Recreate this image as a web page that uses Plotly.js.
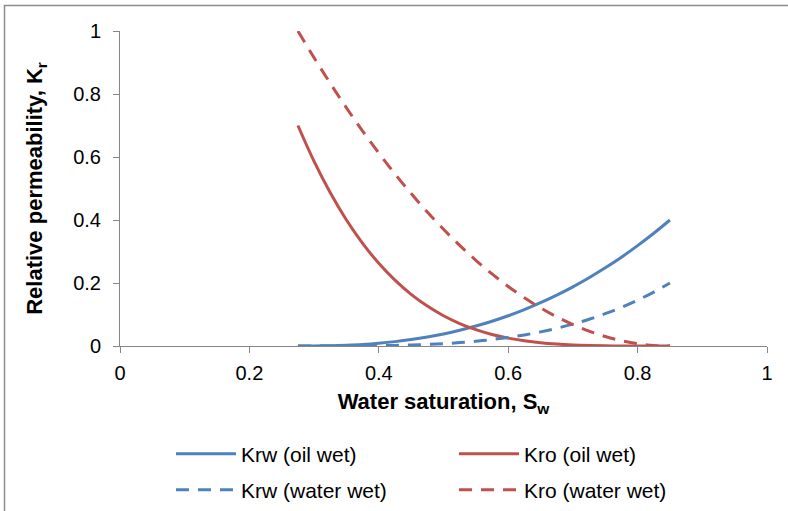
<!DOCTYPE html>
<html>
<head>
<meta charset="utf-8">
<script src="https://cdn.plot.ly/plotly-3.0.1.min.js"></script>
<style>html,body{margin:0;padding:0;background:#fff;}#chart{width:788px;height:511px;}</style>
</head>
<body>
<div id="chart"></div>
<script>
// Water saturation values (x)
const sw = [0.275, 0.300, 0.325, 0.350, 0.375, 0.400, 0.425, 0.450, 0.475, 0.500, 0.525, 0.550,
            0.575, 0.600, 0.625, 0.650, 0.675, 0.700, 0.725, 0.750, 0.775, 0.800, 0.825, 0.850];
// Krw (oil wet)
const krwOilWet = [0.0000, 0.0002, 0.0009, 0.0025, 0.0050, 0.0088, 0.0139, 0.0204, 0.0285, 0.0383, 0.0499, 0.0633,
                   0.0786, 0.0961, 0.1156, 0.1374, 0.1615, 0.1879, 0.2167, 0.2481, 0.2820, 0.3186, 0.3579, 0.4000];
// Kro (oil wet)
const kroOilWet = [0.7000, 0.5860, 0.4865, 0.4002, 0.3260, 0.2626, 0.2089, 0.1639, 0.1266, 0.0961, 0.0714, 0.0519,
                   0.0366, 0.0250, 0.0164, 0.0102, 0.0060, 0.0032, 0.0016, 0.0006, 0.0002, 0.0000, 0.0000, 0.0000];
// Krw (water wet)
const krwWaterWet = [0.0000, 0.0000, 0.0000, 0.0002, 0.0004, 0.0010, 0.0018, 0.0031, 0.0050, 0.0075, 0.0108, 0.0151,
                     0.0205, 0.0272, 0.0352, 0.0448, 0.0562, 0.0694, 0.0848, 0.1025, 0.1226, 0.1455, 0.1712, 0.2000];
// Kro (water wet)
const kroWaterWet = [1.0000, 0.9149, 0.8337, 0.7561, 0.6824, 0.6125, 0.5463, 0.4839, 0.4253, 0.3705, 0.3195, 0.2722,
                     0.2287, 0.1890, 0.1531, 0.1210, 0.0926, 0.0681, 0.0473, 0.0303, 0.0170, 0.0076, 0.0019, 0.0000];
// Tick values / labels
const xTicks = [0, 0.2, 0.4, 0.6, 0.8, 1];
const xTickLabels = ['0', '0.2', '0.4', '0.6', '0.8', '1'];
const yTicks = [0, 0.2, 0.4, 0.6, 0.8, 1];
const yTickLabels = ['0', '0.2', '0.4', '0.6', '0.8', '1'];
const seriesNames = ['Krw (oil wet)', 'Kro (oil wet)', 'Krw (water wet)', 'Kro (water wet)'];

const BLUE = '#4F81BD', RED = '#C0504D', AXIS = '#868686';
const FONT = 'Liberation Sans, Arial, sans-serif';

const traces = [
  {x: sw, y: krwOilWet, name: seriesNames[0], legend: 'legend', mode: 'lines', line: {color: BLUE, width: 3, shape: 'spline'}},
  {x: sw, y: kroOilWet, name: seriesNames[1], legend: 'legend', mode: 'lines', line: {color: RED, width: 3, shape: 'spline'}},
  {x: sw, y: krwWaterWet, name: seriesNames[2], legend: 'legend2', mode: 'lines', line: {color: BLUE, width: 3, dash: '13px,9px', shape: 'spline'}},
  {x: sw, y: kroWaterWet, name: seriesNames[3], legend: 'legend2', mode: 'lines', line: {color: RED, width: 3, dash: '13px,9px', shape: 'spline'}}
];

const legendBase = {
  orientation: 'h', xanchor: 'left', yanchor: 'middle',
  entrywidth: 208, entrywidthmode: 'pixels', itemwidth: 60,
  font: {family: FONT, size: 21, color: '#000'}, bgcolor: 'rgba(0,0,0,0)', borderwidth: 0
};

const layout = {
  width: 788, height: 511,
  margin: {l: 120, r: 21, t: 31, b: 165, autoexpand: false},
  paper_bgcolor: '#ffffff', plot_bgcolor: '#ffffff',
  font: {family: FONT, size: 20, color: '#000'},
  showlegend: true,
  legend: Object.assign({}, legendBase, {x: 0.0788, y: -0.3429}),
  legend2: Object.assign({}, legendBase, {x: 0.0788, y: -0.4571}),
  xaxis: {
    range: [0, 1], tickvals: xTicks, ticktext: xTickLabels,
    showgrid: false, zeroline: false, showline: true, linecolor: AXIS, linewidth: 1,
    ticks: 'outside', ticklen: 6, tickcolor: AXIS, tickwidth: 1, ticklabelstandoff: 3,
    tickfont: {family: FONT, size: 20, color: '#000'},
    title: {text: '<b>Water saturation, S<sub>w</sub></b>', font: {family: FONT, size: 22, color: '#000'}, standoff: 10}
  },
  yaxis: {
    range: [0, 1], tickvals: yTicks, ticktext: yTickLabels,
    showgrid: false, zeroline: false, showline: true, linecolor: AXIS, linewidth: 1,
    ticks: 'outside', ticklen: 6, tickcolor: AXIS, tickwidth: 1, ticklabelstandoff: 8,
    tickfont: {family: FONT, size: 20, color: '#000'},
    title: {text: '<b>Relative permeability, K<sub>r</sub></b>', font: {family: FONT, size: 22, color: '#000'}, standoff: 24}
  },
  shapes: [
    {type: 'path', xref: 'paper', yref: 'paper',
     path: 'M -0.1785 -0.7 L -0.1785 1.0810 L 1.1 1.0810',
     line: {color: '#8c8c8c', width: 1.5}}
  ]
};

Plotly.newPlot('chart', traces, layout, {displayModeBar: false, staticPlot: true});
</script>
</body>
</html>
